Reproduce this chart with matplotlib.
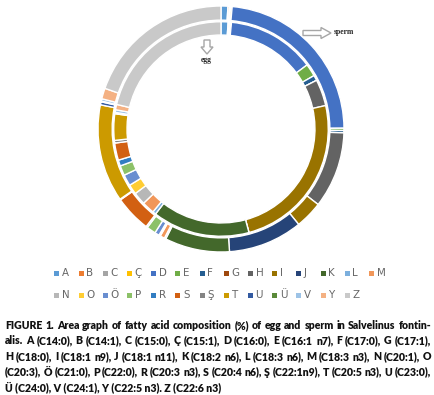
import matplotlib
matplotlib.use("Agg")
import matplotlib.pyplot as plt
from matplotlib.patches import Polygon, Rectangle

categories = ['A', 'B', 'C', 'Ç', 'D', 'E', 'F', 'G', 'H', 'I', 'J', 'K', 'L', 'M',
              'N', 'O', 'Ö', 'P', 'R', 'S', 'Ş', 'T', 'U', 'Ü', 'V', 'Y', 'Z']
sperm = [0.9, 0.2, 0.15, 0.2, 23.4, 0.3, 0.3, 0.0, 10.0, 3.6, 9.75, 8.5, 0.2, 0.6,
         0.1, 0.1, 0.6, 1.2, 0.2, 4.8, 0.1, 12.8, 0.4, 0.1, 0.3, 1.4, 19.6]
egg = [1.07, 0.15, 0.15, 0.2, 13.3, 1.9, 0.8, 0.0, 4.0, 24.4, 0.0, 14.7, 0.5, 1.9,
       1.9, 1.5, 1.7, 1.5, 0.9, 2.6, 0.4, 4.0, 0.1, 0.1, 0.4, 0.8, 21.4]
colors = ['#5B9BD5', '#ED7D31', '#A5A5A5', '#FFC000', '#4472C4', '#70AD47', '#255E91',
          '#9E480E', '#636363', '#997300', '#264478', '#43682B', '#7CAFDD', '#F1975A',
          '#B7B7B7', '#FFCD33', '#698ED0', '#8CC168', '#327DC2', '#D26012', '#848484',
          '#CC9A00', '#335AA1', '#5A8A39', '#9DC3E6', '#F4B183', '#C9C9C9']
caption_lines = [
    "FIGURE 1. Area graph of fatty acid composition (%) of egg and sperm in Salvelinus fontin-",
    "alis. A (C14:0), B (C14:1), C (C15:0), Ç (C15:1), D (C16:0), E (C16:1 n7), F (C17:0), G (C17:1),",
    "H (C18:0), I (C18:1 n9), J (C18:1 n11), K (C18:2 n6), L (C18:3 n6), M (C18:3 n3), N (C20:1), O",
    "(C20:3), Ö (C21:0), P (C22:0), R (C20:3 n3), S (C20:4 n6), Ş (C22:1n9), T (C20:5 n3), U (C23:0),",
    "Ü (C24:0), V (C24:1), Y (C22:5 n3). Z (C22:6 n3)",
]

W, H = 435, 395
fig = plt.figure(figsize=(W / 100, H / 100), dpi=100)
fig.patch.set_facecolor('white')

# doughnut axes
cx, cy, R = 221, 129, 123
ax = fig.add_axes([(cx - R) / W, (H - cy - R) / H, 2 * R / W, 2 * R / H])
wp = dict(edgecolor='white', linewidth=1.0)
ax.pie(sperm, colors=colors, radius=1.0, startangle=90, counterclock=False,
       wedgeprops=dict(width=0.115, **wp))
ax.pie(egg, colors=colors, radius=0.872, startangle=90, counterclock=False,
       wedgeprops=dict(width=0.108, **wp))
ax.set_xlim(-1, 1)
ax.set_ylim(-1, 1)
ax.set_aspect('equal')
ax.axis('off')

# overlay axes in pixel coordinates
ov = fig.add_axes([0, 0, 1, 1], zorder=5)
ov.set_xlim(0, W)
ov.set_ylim(H, 0)
ov.axis('off')
ov.patch.set_alpha(0)

# arrows and labels
arrow_kw = dict(closed=True, facecolor='white', edgecolor='#A6A6A6', linewidth=1.0)
ov.add_patch(Polygon([(303, 30.5), (321, 30.5), (321, 27.5), (331, 33), (321, 38.5),
                      (321, 35.5), (303, 35.5)], **arrow_kw))
ov.add_patch(Polygon([(204, 40), (210, 40), (210, 47), (213, 47), (207, 54), (201, 47),
                      (204, 47)], **arrow_kw))
ov.text(334, 32, 'sperm', fontsize=5.5, fontweight='bold', family='Liberation Serif',
        ha='left', va='center', color='#262626')
ov.text(206.5, 60, 'egg', fontsize=5.5, fontweight='bold', family='Liberation Serif',
        ha='center', va='center', color='#262626')

# legend (two rows, aligned columns)
x0, pitch = 57, 24.2
rows_y = [273.5, 295.5]
for i, (lab, col) in enumerate(zip(categories, colors)):
    r, c = divmod(i, 14)
    x = x0 + c * pitch
    y = rows_y[r]
    ov.add_patch(Rectangle((x - 2.5, y - 2.5), 5, 5, facecolor=col, edgecolor='none'))
    ov.text(x + 5, y, lab, fontsize=7.4, color='#666666', ha='left', va='center',
            family='DejaVu Sans')

# caption with justification
renderer = fig.canvas.get_renderer()
cap_font = dict(family='Lato', fontweight='heavy', color='#111111')
probe = ov.text(0, 0, caption_lines[-1], fontsize=10, **cap_font)
w10 = probe.get_window_extent(renderer).width
probe.remove()
fs = 10 * 219.0 / w10

left, right = 5, 431
ys = [325.5, 341, 356.5, 372, 387.5]
for k, (line, y) in enumerate(zip(caption_lines, ys)):
    if k == len(caption_lines) - 1:
        ov.text(left, y, line, fontsize=fs, ha='left', va='center', **cap_font)
        continue
    words = line.split(' ')
    tobjs = [ov.text(0, y, wd, fontsize=fs, ha='left', va='center', **cap_font) for wd in words]
    widths = [t.get_window_extent(renderer).width for t in tobjs]
    gap = (right - left - sum(widths)) / (len(words) - 1)
    x = left
    for t, wd in zip(tobjs, widths):
        t.set_x(x)
        x += wd + gap

fig.savefig('out.png', dpi=100, facecolor='white')
